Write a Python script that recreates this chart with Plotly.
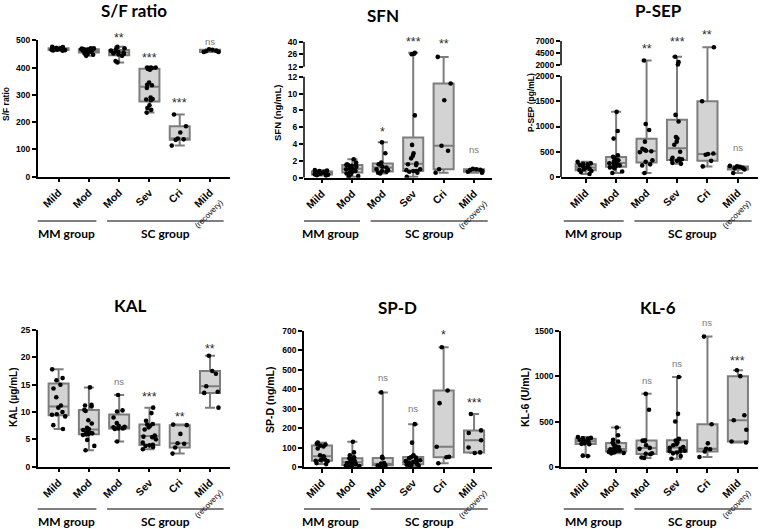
import numpy as np
import plotly.graph_objects as go

W, H = 767, 529

# ---------------- data ----------------
categories = ["Mild", "Mod", "Mod", "Sev", "Cri", "Mild"]
category_notes = ["", "", "", "", "", "(recovery)"]
group_names = ["MM group", "SC group"]

sf_ratio = [
    [476, 475, 472, 471, 470, 469, 468, 467, 467, 466, 465, 464, 463, 462],
    [471, 471, 470, 468, 467, 467, 466, 465, 464, 463, 462, 461, 460, 458, 457, 455, 452, 450, 447, 443],
    [476, 471, 467, 462, 459, 457, 455, 452, 450, 448, 443, 424, 419],
    [400, 400, 400, 398, 395, 392, 345, 337, 335, 325, 290, 285, 283, 280, 262, 252, 245, 235],
    [228, 185, 162, 140, 137, 135, 114],
    [467, 465, 462, 460, 459, 457, 457],
]
sfn = [
    [0.9, 0.85, 0.8, 0.7, 0.65, 0.6, 0.6, 0.55, 0.5, 0.45, 0.4, 0.35, 0.3, 0.25],
    [2.2, 1.8, 1.6, 1.6, 1.5, 1.5, 1.4, 1.3, 1.2, 1.1, 1.0, 1.0, 0.9, 0.8, 0.7, 0.6, 0.5, 0.4, 0.2, 0.1],
    [4.2, 2.9, 1.8, 1.6, 1.5, 1.3, 1.2, 1.0, 0.9, 0.8, 0.7, 0.6, 0.5],
    [27.5, 26.5, 26.0, 7.4, 3.9, 2.9, 2.6, 2.3, 1.7, 1.6, 1.5, 1.0, 0.9, 0.8, 0.8, 0.7, 0.6, 0.1],
    [23.0, 11.2, 9.2, 3.8, 3.2, 1.0, 0.6],
    [1.05, 1.0, 0.95, 0.9, 0.8, 0.7, 0.6],
]
psep = [
    [300, 270, 260, 250, 240, 220, 200, 180, 160, 150, 140, 120, 100, 60],
    [1290, 910, 760, 430, 400, 380, 350, 330, 300, 280, 270, 260, 250, 230, 220, 200, 190, 170, 110, 80],
    [3000, 1050, 930, 700, 560, 540, 520, 510, 490, 330, 300, 250, 230, 80],
    [3750, 2650, 2150, 1230, 1100, 790, 760, 700, 640, 500, 380, 360, 350, 340, 330, 320, 280, 260],
    [5700, 1500, 465, 455, 440, 320, 210],
    [220, 210, 200, 180, 170, 150, 80],
]
kal = [
    [17.8, 16.2, 15.8, 15.0, 14.3, 12.7, 11.2, 10.8, 10.0, 9.6, 9.5, 9.2, 7.6, 6.9],
    [14.5, 11.3, 11.2, 11.0, 10.4, 10.2, 8.5, 7.9, 7.1, 6.9, 6.7, 6.3, 6.2, 6.1, 6.0, 5.9, 5.8, 4.9, 3.8, 3.0],
    [13.1, 10.3, 10.1, 9.0, 8.0, 7.5, 7.3, 7.2, 7.1, 7.0, 7.0, 6.9, 4.6],
    [10.8, 9.8, 8.4, 7.8, 7.7, 7.5, 7.2, 6.8, 5.7, 5.5, 5.4, 5.0, 4.4, 4.0, 3.9, 3.8, 3.6, 3.2],
    [7.7, 7.6, 6.0, 4.3, 4.2, 3.5, 2.4],
    [20.3, 17.5, 17.0, 14.7, 13.7, 13.5, 10.8],
]
spd = [
    [125, 120, 115, 110, 105, 95, 60, 55, 40, 38, 35, 32, 30, 20, 15],
    [130, 75, 60, 50, 45, 40, 35, 30, 25, 25, 20, 20, 15, 15, 10, 10, 8, 5, 5],
    [383, 52, 45, 20, 18, 15, 12, 10, 8, 5],
    [220, 125, 60, 55, 50, 48, 45, 40, 35, 30, 28, 25, 20, 15, 12, 10, 8, 5],
    [615, 393, 328, 104, 52, 50, 19],
    [272, 188, 175, 137, 100, 75, 72],
]
kl6 = [
    [330, 320, 315, 310, 300, 290, 285, 280, 270, 260, 255, 250, 125, 120],
    [435, 350, 300, 280, 270, 250, 230, 220, 210, 200, 195, 190, 185, 180, 175, 170, 165, 160, 155, 150],
    [805, 630, 295, 290, 285, 240, 210, 200, 150, 145, 140, 105, 100],
    [990, 585, 500, 310, 290, 270, 250, 240, 220, 210, 200, 180, 175, 170, 160, 150, 120, 90],
    [1435, 470, 260, 200, 195, 170, 110],
    [1065, 1000, 570, 515, 410, 280, 270],
]

sf_sig = ["", "", "**", "***", "***", "ns"]
sfn_sig = ["", "", "*", "***", "**", "ns"]
psep_sig = ["", "", "**", "***", "**", "ns"]
kal_sig = ["", "", "ns", "***", "**", "**"]
spd_sig = ["", "", "ns", "ns", "*", "***"]
kl6_sig = ["", "", "ns", "ns", "ns", "***"]

# heights (data units) at which the significance marks sit
sf_sig_y = [None, None, 522, 449, 283, 497]
sfn_sig_y = [None, None, 5.9, 43.8, 41.9, 3.3]
psep_sig_y = [None, None, 6178, 7548, 9050, 590]
kal_sig_y = [None, None, 15.5, 13.5, 9.9, 22.3]
spd_sig_y = [None, None, 461, 300, 698, 350]
kl6_sig_y = [None, None, 948, 1142, 1585, 1207]

# ---------------- style ----------------
BOX_FILL = "#d3d3d3"
BOX_LINE = "#7d7d7d"
TICK_FONT = "Liberation Sans, Arial, sans-serif"
TITLE_FONT = "Lato, Liberation Sans, sans-serif"


def identity(v):
    return np.asarray(v, float)


def broken(brk, gap, scale):
    def f(v):
        v = np.asarray(v, float)
        return np.where(v <= brk, v, brk + gap + (v - brk) * scale)
    return f


def xd(a, b):
    return [a / W, b / W]


def yd(top, bot):
    return [1 - bot / H, 1 - top / H]


panels = [
    dict(title="S/F ratio", ytitle="S/F ratio", data=sf_ratio, sig=sf_sig, sig_y=sf_sig_y, t=identity,
         ticks=[0, 100, 200, 300, 400, 500], upper=[], top=500,
         xdom=(37.7, 230), xr=(-0.69, 5.66), ydom=(40.3, 176.7),
         tpos=(134, 11, 17), ypos=(6, 104, 8.5), grp_y=(221, 233)),
    dict(title="SFN", ytitle="SFN (ng/mL)", data=sfn, sig=sfn_sig, sig_y=sfn_sig_y,
         t=broken(12, 1.188, 0.1061),
         ticks=[0, 2, 4, 6, 8, 10, 12], upper=[12, 26, 40], top=40,
         xdom=(304, 492), xr=(-0.59, 5.59), ydom=(41.7, 177.7),
         tpos=(383, 15, 17), ypos=(277, 113, 9.5), grp_y=(221, 233)),
    dict(title="P-SEP", ytitle="P-SEP (pg/mL)", data=psep, sig=psep_sig, sig_y=psep_sig_y,
         t=broken(2000, 212, 0.0962),
         ticks=[0, 500, 1000, 1500, 2000], upper=[2000, 4500, 7000], top=7000,
         xdom=(561, 758), xr=(-0.81, 5.66), ydom=(41, 177),
         tpos=(658, 11, 17), ypos=(531, 103, 8.5), grp_y=(221, 233)),
    dict(title="KAL", ytitle="KAL (µg/mL)", data=kal, sig=kal_sig, sig_y=kal_sig_y, t=identity,
         ticks=[0, 5, 10, 15, 20, 25], upper=[], top=25,
         xdom=(37.7, 230), xr=(-0.69, 5.66), ydom=(330, 466.7),
         tpos=(130, 305, 17), ypos=(13, 398, 10), grp_y=(509, 521)),
    dict(title="SP-D", ytitle="SP-D (ng/mL)", data=spd, sig=spd_sig, sig_y=spd_sig_y, t=identity,
         ticks=[0, 100, 200, 300, 400, 500, 600, 700], upper=[], top=700,
         xdom=(304, 492), xr=(-0.59, 5.59), ydom=(330.7, 467),
         tpos=(397, 307, 17), ypos=(270, 400, 10.5), grp_y=(509, 521)),
    dict(title="KL-6", ytitle="KL-6 (U/mL)", data=kl6, sig=kl6_sig, sig_y=kl6_sig_y, t=identity,
         ticks=[0, 500, 1000, 1500], upper=[], top=1500,
         xdom=(561, 758), xr=(-0.81, 5.66), ydom=(330.7, 467),
         tpos=(658, 307, 17), ypos=(525, 397, 10.5), grp_y=(509, 521)),
]

# group spans in category units
group_spans = [(-0.72, 1.25), (1.6, 5.45)]

tick_labels = []
for c, n in zip(categories, category_notes):
    s = f"<b>{c}</b>"
    if n:
        s += f"<br><span style='font-size:8px'>{n}</span>"
    tick_labels.append(s)

fig = go.Figure()
annotations = []
shapes = []
layout = {}

for i, p in enumerate(panels, start=1):
    xa = "x" if i == 1 else f"x{i}"
    ya = "y" if i == 1 else f"y{i}"
    t = p["t"]
    pos = list(range(len(categories)))

    stats = np.array([np.percentile(np.asarray(v, float), [0, 25, 50, 75, 100], method="weibull")
                      for v in p["data"]])
    fig.add_trace(go.Box(
        x=pos, lowerfence=t(stats[:, 0]), q1=t(stats[:, 1]), median=t(stats[:, 2]),
        q3=t(stats[:, 3]), upperfence=t(stats[:, 4]),
        width=0.66, whiskerwidth=0.5, fillcolor=BOX_FILL,
        line=dict(color=BOX_LINE, width=2), boxpoints=False,
        xaxis=xa, yaxis=ya, showlegend=False, hoverinfo="skip",
    ))
    xs, ys = [], []
    for k, v in enumerate(p["data"]):
        xs += [k] * len(v)
        ys += list(v)
    fig.add_trace(go.Box(
        x=xs, y=t(ys), boxpoints="all", jitter=0.85, pointpos=0, width=0.66,
        fillcolor="rgba(0,0,0,0)", line=dict(color="rgba(0,0,0,0)", width=0),
        marker=dict(color="black", size=4.6),
        xaxis=xa, yaxis=ya, showlegend=False, hoverinfo="skip",
    ))

    broken_axis = len(p["upper"]) > 0
    lower_vals = [float(v) for v in t(p["ticks"])]
    if broken_axis:
        brk = p["ticks"][-1]
        up0 = float(t([brk + 1e-6])[0])
        up1 = float(t([brk + 1.0])[0])
        sc = (up1 - up0) / (1.0 - 1e-6)
        upper_vals = [up0 + (u - brk) * sc for u in p["upper"]]
    else:
        upper_vals = []
    tvals = lower_vals + upper_vals
    ttext = [f"{v:g}" for v in list(p["ticks"]) + list(p["upper"])]
    top = tvals[-1]

    layout["xaxis" if i == 1 else f"xaxis{i}"] = dict(
        domain=xd(*p["xdom"]), range=list(p["xr"]), anchor=ya, automargin=False,
        tickvals=pos, ticktext=tick_labels, tickangle=-45,
        showline=True, linecolor="black", linewidth=1.5,
        ticks="outside", ticklen=4, tickwidth=1.5, tickcolor="black",
        tickfont=dict(family=TICK_FONT, size=10.5, color="black"),
        showgrid=False, zeroline=False, fixedrange=True,
    )
    layout["yaxis" if i == 1 else f"yaxis{i}"] = dict(
        domain=yd(*p["ydom"]), range=[0, top], anchor=xa, automargin=False,
        tickvals=tvals, ticktext=[f"<b>{s}</b>" for s in ttext],
        showline=not broken_axis, linecolor="black", linewidth=1.5,
        ticks="outside", ticklen=4, tickwidth=1.5, tickcolor="black",
        tickfont=dict(family=TICK_FONT, size=8.5, color="black"),
        showgrid=False, zeroline=False, fixedrange=True,
    )
    if broken_axis:
        nlow = len(p["ticks"])
        for y0, y1 in [(0, tvals[nlow - 1]), (tvals[nlow], top)]:
            shapes.append(dict(type="line", xref=f"{xa} domain", yref=ya, x0=0, x1=0, y0=y0, y1=y1,
                               line=dict(color="black", width=1.5)))

    # panel title
    tx, ty, ts = p["tpos"]
    annotations.append(dict(text=f"<b>{p['title']}</b>", x=tx / W, y=1 - ty / H, xref="paper", yref="paper",
                            showarrow=False, xanchor="center", yanchor="middle",
                            font=dict(family=TITLE_FONT, size=ts, color="black")))
    # y title
    ax_, ay_, asz = p["ypos"]
    annotations.append(dict(text=f"<b>{p['ytitle']}</b>", x=ax_ / W, y=1 - ay_ / H, xref="paper", yref="paper",
                            showarrow=False, textangle=-90, xanchor="center", yanchor="middle",
                            font=dict(family=TICK_FONT, size=asz, color="black")))
    # significance marks (in axis-domain units so marks above the range still show)
    for k, (s, sy) in enumerate(zip(p["sig"], p["sig_y"])):
        if not s:
            continue
        star = s != "ns"
        annotations.append(dict(
            text=s, x=k, y=float(t([sy])[0]) / top,
            xref=xa, yref=f"{ya} domain", showarrow=False, xanchor="center", yanchor="middle",
            yshift=-4 if star else 0,
            font=dict(family=TICK_FONT, size=12.5 if star else 9.5, color="#2b2b2b" if star else "#7a7a7a"),
        ))
    # group lines & labels
    ly, lty = p["grp_y"]
    for (g0, g1), name in zip(group_spans, group_names):
        shapes.append(dict(type="line", xref=xa, yref="paper", x0=g0, x1=g1, y0=1 - ly / H, y1=1 - ly / H,
                           line=dict(color="black", width=1)))
        annotations.append(dict(text=f"<b>{name}</b>", x=(g0 + g1) / 2, y=1 - lty / H, xref=xa, yref="paper",
                                showarrow=False, xanchor="center", yanchor="middle",
                                font=dict(family=TITLE_FONT, size=12, color="black")))

fig.update_layout(
    width=W, height=H, margin=dict(l=0, r=0, t=0, b=0, autoexpand=False),
    paper_bgcolor="white", plot_bgcolor="white",
    boxmode="overlay", showlegend=False,
    annotations=annotations, shapes=shapes, **layout,
)

fig.write_html("out.html", config={"displayModeBar": False},
               post_script="document.body.style.margin='0';document.body.style.overflow='hidden';")
